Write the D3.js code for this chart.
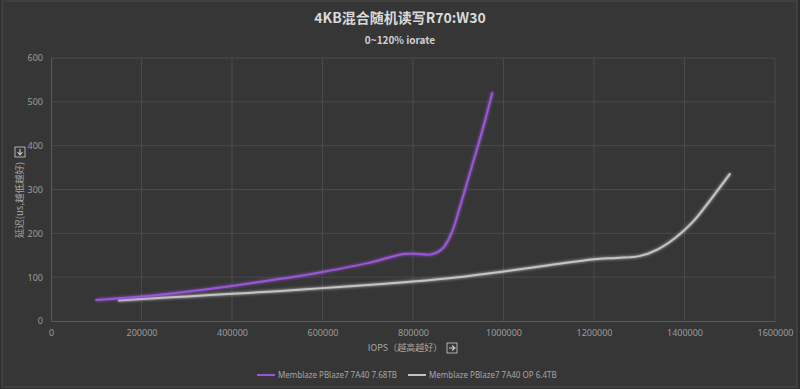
<!DOCTYPE html>
<html>
<head>
<meta charset="utf-8">
<script src="https://cdn.jsdelivr.net/npm/d3@7"></script>
<style>
  body { margin: 0; background: #2f2f2f; }
  svg { display: block; font-family: "Noto Sans CJK SC", "Noto Sans", sans-serif; }
</style>
</head>
<body>
<svg></svg>
<script>
// chart values
var seriesNames = ["Memblaze PBlaze7 7A40 7.68TB", "Memblaze PBlaze7 7A40 OP 6.4TB"];
var purpleIops = [100000, 200000, 300000, 400000, 500000, 600000, 700000, 780000, 810000, 840000, 865000, 885000, 905000, 925000, 945000, 960000, 975000];
var purpleLat  = [48, 56, 67, 80, 95, 112, 132, 153, 153, 152, 165, 200, 265, 335, 405, 460, 520];
var grayIops = [150000, 200000, 300000, 400000, 500000, 600000, 700000, 800000, 900000, 1000000, 1100000, 1200000, 1250000, 1300000, 1340000, 1380000, 1420000, 1460000, 1500000];
var grayLat  = [47, 50, 56, 62, 68, 75, 82, 90, 100, 113, 127, 141, 144, 148, 163, 190, 228, 280, 335];
var xTicks = [0, 200000, 400000, 600000, 800000, 1000000, 1200000, 1400000, 1600000];
var yTicks = [0, 100, 200, 300, 400, 500, 600];

var width = 800, height = 389;
var svg = d3.select("svg").attr("width", width).attr("height", height);

// background + thin frame
svg.append("rect").attr("x", 0).attr("y", 0).attr("width", width).attr("height", height).attr("fill", "#2e2e2e");
svg.append("rect").attr("x", 2).attr("y", 1).attr("width", 795).attr("height", 386)
   .attr("fill", "#363636").attr("stroke", "#4d4d4d");

var x = d3.scaleLinear().domain([0, 1600000]).range([51, 775]);
var y = d3.scaleLinear().domain([0, 600]).range([321, 58]);

// gridlines
svg.append("g").selectAll("line").data(xTicks.slice(1)).enter().append("line")
   .attr("x1", d => x(d)).attr("x2", d => x(d)).attr("y1", y(0)).attr("y2", y(600))
   .attr("stroke", "#4a4a4a").attr("stroke-width", 1);
svg.append("g").selectAll("line").data(yTicks.slice(1)).enter().append("line")
   .attr("x1", x(0)).attr("x2", x(1600000)).attr("y1", d => y(d)).attr("y2", d => y(d))
   .attr("stroke", "#4a4a4a").attr("stroke-width", 1);

// axes
var xAxis = d3.axisBottom(x).tickValues(xTicks).tickFormat(d3.format("d")).tickSize(0).tickPadding(9);
var gx = svg.append("g").attr("transform", "translate(0," + y(0) + ")").call(xAxis);
gx.select(".domain").attr("stroke", "#5a5a5a");
gx.selectAll("text").attr("fill", "#9c9c9c").style("font-size", "9px").style("font-family", "Noto Sans");

var yAxis = d3.axisLeft(y).tickValues(yTicks).tickSize(0).tickPadding(8);
var gy = svg.append("g").attr("transform", "translate(" + x(0) + ",0)").call(yAxis);
gy.select(".domain").attr("stroke", "#5a5a5a");
gy.selectAll("text").attr("fill", "#9c9c9c").style("font-size", "9px").style("font-family", "Noto Sans");

// glow filter
var defs = svg.append("defs");
var f = defs.append("filter").attr("id", "glow").attr("x", "-20%").attr("y", "-20%").attr("width", "140%").attr("height", "140%");
f.append("feGaussianBlur").attr("stdDeviation", 1.6).attr("result", "b");
var m = f.append("feMerge");
m.append("feMergeNode").attr("in", "b");
m.append("feMergeNode").attr("in", "SourceGraphic");

var line = d3.line().x(d => x(d[0])).y(d => y(d[1])).curve(d3.curveCatmullRom.alpha(0.5));
var series = [
  { name: seriesNames[0], color: "#9a55d8", pts: d3.zip(purpleIops, purpleLat) },
  { name: seriesNames[1], color: "#c4c4c4", pts: d3.zip(grayIops, grayLat) }
];

svg.append("g").selectAll("path").data(series.slice().reverse()).enter().append("path")
   .attr("d", d => line(d.pts))
   .attr("fill", "none")
   .attr("stroke", d => d.color)
   .attr("stroke-width", 2)
   .attr("stroke-linecap", "round")
   .attr("filter", "url(#glow)");

// titles
svg.append("text").attr("x", 400).attr("y", 23).attr("text-anchor", "middle")
   .attr("fill", "#d9d9d9").style("font-size", "14px").style("font-weight", "bold")
   .text("4KB混合随机读写R70:W30");
svg.append("text").attr("x", 400).attr("y", 44).attr("text-anchor", "middle")
   .attr("fill", "#d0d0d0").style("font-size", "10px").style("font-weight", "bold")
   .text("0~120% iorate");

// y label with boxed arrow
var yl = svg.append("g").attr("transform", "translate(23,200) rotate(-90)");
yl.append("text").attr("x", 0).attr("y", 0).attr("text-anchor", "middle")
  .attr("fill", "#a6a6a6").style("font-size", "9.5px").text("延迟(us,越低越好)");
var yb = svg.append("g").attr("transform", "translate(20,152)");
yb.append("rect").attr("x", -5).attr("y", -5).attr("width", 10).attr("height", 10)
  .attr("fill", "none").attr("stroke", "#b0b0b0").attr("stroke-width", 1);
yb.append("path").attr("d", "M0,-3 L0,2 M-2.5,0 L0,3 L2.5,0").attr("fill", "none").attr("stroke", "#d0d0d0").attr("stroke-width", 1.1);

// x label with boxed arrow
svg.append("text").attr("x", 405).attr("y", 351).attr("text-anchor", "middle")
   .attr("fill", "#a6a6a6").style("font-size", "9px").text("IOPS（越高越好）");
var xb = svg.append("g").attr("transform", "translate(452,348)");
xb.append("rect").attr("x", -5).attr("y", -5).attr("width", 10).attr("height", 10)
  .attr("fill", "none").attr("stroke", "#b0b0b0").attr("stroke-width", 1);
xb.append("path").attr("d", "M-3,0 L2,0 M0,-2.5 L3,0 L0,2.5").attr("fill", "none").attr("stroke", "#d0d0d0").attr("stroke-width", 1.1);

// legend
var legX = [257, 408];
var leg = svg.append("g").selectAll("g").data(series).enter().append("g")
   .attr("transform", (d, i) => "translate(" + legX[i] + ",375)");
leg.append("line").attr("x1", 0).attr("x2", 18).attr("y1", 0).attr("y2", 0)
   .attr("stroke", d => d.color).attr("stroke-width", 2);
leg.append("text").attr("x", 21).attr("y", 3).attr("fill", "#a6a6a6")
   .style("font-size", "8px").style("font-family", "Noto Sans").text(d => d.name);
</script>
</body>
</html>
